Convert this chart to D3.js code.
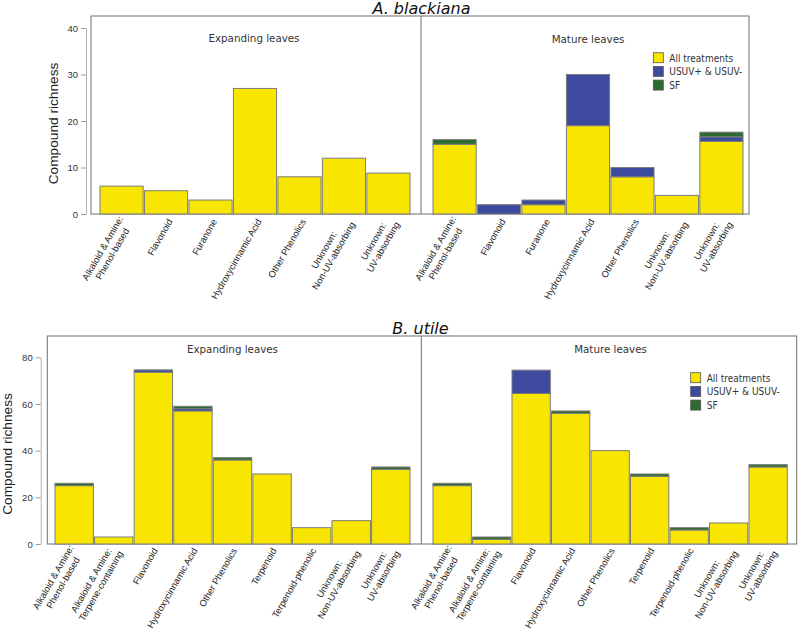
<!DOCTYPE html>
<html>
<head>
<meta charset="utf-8">
<script src="https://cdn.jsdelivr.net/npm/d3@7"></script>
<style>
  html, body { margin: 0; padding: 0; background: #ffffff; }
  svg { display: block; }
</style>
</head>
<body>
<svg id="chart" width="798" height="631"></svg>
<script>
// ---------------- DATA ----------------
const seriesNames = ["All treatments", "USUV+ & USUV-", "SF"];
const seriesColors = ["#F9E600", "#3E4A9E", "#2C6B2E"];

// A. blackiana
const topTitle = "A. blackiana";
const topCategories = ["Alkaloid & Amine:\nPhenol-based", "Flavonoid", "Furanone", "Hydroxycinnamic Acid", "Other Phenolics", "Unknown:\nNon-UV-absorbing", "Unknown:\nUV-absorbing"];
const topExpAll  = [6, 5, 3, 27, 8, 12, 8.8];
const topExpUSUV = [0, 0, 0, 0, 0, 0, 0];
const topExpSF   = [0, 0, 0, 0, 0, 0, 0];
const topMatAll  = [15, 0, 2, 19, 8, 4, 15.6];
const topMatUSUV = [0, 2, 1, 11, 2, 0, 1];
const topMatSF   = [1, 0, 0, 0, 0, 0, 1];
const topTicks = [0, 10, 20, 30, 40];

// B. utile
const botTitle = "B. utile";
const botCategories = ["Alkaloid & Amine:\nPhenol-based", "Alkaloid & Amine:\nTerpene-containing", "Flavonoid", "Hydroxycinnamic Acid", "Other Phenolics", "Terpenoid", "Terpenoid-phenolic", "Unknown:\nNon-UV-absorbing", "Unknown:\nUV-absorbing"];
const botExpAll  = [25, 3, 73.6, 57, 36, 30, 7, 10, 32];
const botExpUSUV = [0, 0, 1, 1, 0, 0, 0, 0, 0];
const botExpSF   = [1, 0, 0, 1, 1, 0, 0, 0, 1];
const botMatAll  = [25, 2, 64.5, 56, 40, 29, 6, 9, 33];
const botMatUSUV = [0, 0, 10, 0, 0, 0, 0, 0, 0];
const botMatSF   = [1, 1, 0, 1, 0, 1, 1, 0, 1];
const botTicks = [0, 20, 40, 60, 80];

const panelNames = ["Expanding leaves", "Mature leaves"];
const yAxisLabel = "Compound richness";

// ---------------- DRAW ----------------
const svg = d3.select("#chart");
const sansUI = "'DejaVu Sans', Verdana, sans-serif";
const sansAx = "'Liberation Sans', Arial, sans-serif";

function buildRows(cats, a, b, c) {
  return cats.map((cat, i) => ({ cat, v: [a[i], b[i], c[i]] }));
}

function drawChart(cfg) {
  const g = svg.append("g");
  const y = d3.scaleLinear().domain(cfg.yDomain).range([cfg.y0, cfg.yTop]);

  // panel box
  g.append("rect")
    .attr("x", cfg.boxX0).attr("y", cfg.boxY0)
    .attr("width", cfg.boxX1 - cfg.boxX0).attr("height", cfg.y0 - cfg.boxY0)
    .attr("fill", "none").attr("stroke", "#6e6e6e").attr("stroke-width", 1);
  g.append("line")
    .attr("x1", cfg.divX).attr("x2", cfg.divX)
    .attr("y1", cfg.boxY0).attr("y2", cfg.y0)
    .attr("stroke", "#6e6e6e").attr("stroke-width", 1);

  // y axis
  const axis = d3.axisLeft(y).tickValues(cfg.ticks).tickSizeInner(5).tickSizeOuter(0).tickPadding(3);
  const ag = g.append("g").attr("transform", `translate(${cfg.axisX},0)`).call(axis);
  ag.select(".domain").attr("stroke", "#b4b4b4");
  ag.selectAll(".tick line").attr("stroke", "#9a9a9a");
  ag.selectAll(".tick text").attr("fill", "#333").attr("font-family", sansAx).attr("font-size", 9.5);

  // y label
  g.append("text")
    .attr("transform", `translate(${cfg.yLabX},${cfg.yLabY}) rotate(-90)`)
    .attr("text-anchor", "middle")
    .attr("font-family", sansAx).attr("font-size", 13.7).attr("fill", "#222")
    .text(yAxisLabel);

  // title
  g.append("text")
    .attr("x", cfg.titleX).attr("y", cfg.titleY)
    .attr("text-anchor", "middle")
    .attr("font-family", sansUI).attr("font-style", "italic").attr("font-size", 16).attr("fill", "#111")
    .text(cfg.title);

  cfg.panels.forEach((p, pi) => {
    const x = d3.scaleBand().domain(cfg.categories).range(p.range).paddingInner(0.03).paddingOuter(0);
    const rows = buildRows(cfg.categories, p.all, p.usuv, p.sf);
    const stack = d3.stack().keys([0, 1, 2]).value((d, k) => d.v[k])(rows);
    stack.forEach((layer, li) => {
      g.append("g").selectAll("rect")
        .data(layer.filter(d => d[1] - d[0] > 0))
        .join("rect")
        .attr("x", d => x(d.data.cat))
        .attr("width", x.bandwidth())
        .attr("y", d => y(d[1]))
        .attr("height", d => y(d[0]) - y(d[1]))
        .attr("fill", seriesColors[li])
        .attr("stroke", "#7c7c7c")
        .attr("stroke-width", 1);
    });

    // panel label
    g.append("text")
      .attr("x", p.labX).attr("y", p.labY)
      .attr("text-anchor", "middle")
      .attr("font-family", sansUI).attr("font-size", 10.3).attr("fill", "#333")
      .text(panelNames[pi]);

    // category labels
    cfg.categories.forEach(cat => {
      const lines = cat.split("\n");
      const cx = x(cat) + x.bandwidth() / 2 + cfg.labDx;
      const lg = g.append("g").attr("transform", `translate(${cx},${cfg.y0 + cfg.labDy}) rotate(-60)`);
      const texts = lines.map(l => lg.append("text")
        .attr("font-family", sansAx).attr("font-size", 9.3).attr("fill", "#222")
        .attr("text-anchor", "middle").text(l));
      const widths = texts.map(t => t.node().getComputedTextLength());
      const maxW = d3.max(widths);
      const n = lines.length;
      const lh = 11.2;
      texts.forEach((t, i) => t.attr("x", -maxW / 2 - 2).attr("y", (i - (n - 1) / 2) * lh).attr("dy", "0.35em"));
    });
  });

  // legend
  const lgd = g.append("g");
  seriesNames.forEach((s, i) => {
    const yy = cfg.legY + i * 13.7;
    lgd.append("rect").attr("x", cfg.legX).attr("y", yy).attr("width", 10).attr("height", 10)
      .attr("fill", seriesColors[i]).attr("stroke", "#555").attr("stroke-width", 0.8);
    lgd.append("text").attr("x", cfg.legX + 16).attr("y", yy + 9)
      .attr("font-family", "'DejaVu Sans Condensed', 'DejaVu Sans', sans-serif")
      .attr("font-size", 10).attr("fill", "#333").text(s);
  });
}

drawChart({
  title: topTitle, titleX: 421.5, titleY: 14,
  categories: topCategories, ticks: topTicks, yDomain: [0, 40],
  y0: 214, yTop: 28, boxX0: 91, boxX1: 749, boxY0: 16, divX: 421,
  axisX: 86, yLabX: 58, yLabY: 123.5,
  labDx: 5, labDy: 4,
  legX: 653.3, legY: 52.7,
  panels: [
    { range: [100, 410], all: topExpAll, usuv: topExpUSUV, sf: topExpSF, labX: 254, labY: 41.5 },
    { range: [433, 743], all: topMatAll, usuv: topMatUSUV, sf: topMatSF, labX: 588, labY: 43 }
  ]
});

drawChart({
  title: botTitle, titleX: 420.5, titleY: 334,
  categories: botCategories, ticks: botTicks, yDomain: [0, 80],
  y0: 544, yTop: 357.3, boxX0: 47.3, boxX1: 796.7, boxY0: 336, divX: 421.3,
  axisX: 40.7, yLabX: 11.5, yLabY: 454,
  labDx: 3, labDy: 3,
  legX: 690.7, legY: 372.7,
  panels: [
    { range: [55, 410], all: botExpAll, usuv: botExpUSUV, sf: botExpSF, labX: 232.5, labY: 353.3 },
    { range: [433, 787.3], all: botMatAll, usuv: botMatUSUV, sf: botMatSF, labX: 610.5, labY: 353.3 }
  ]
});
</script>
</body>
</html>
